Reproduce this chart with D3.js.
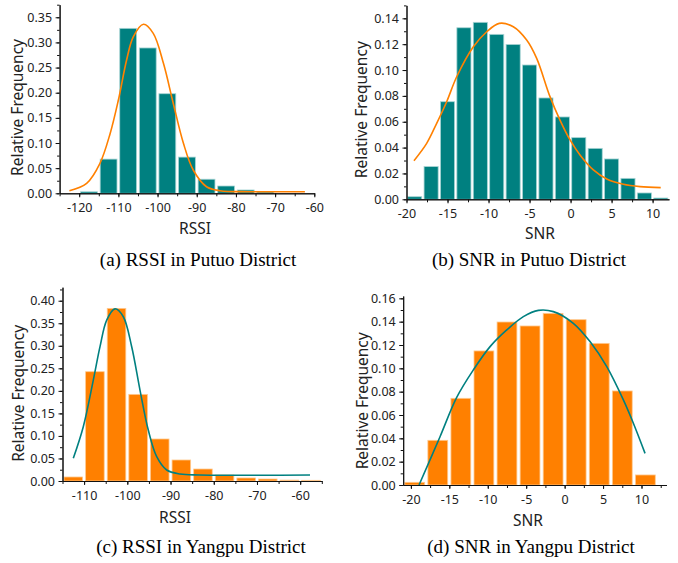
<!DOCTYPE html>
<html>
<head>
<meta charset="utf-8">
<script src="https://cdn.jsdelivr.net/npm/d3@7"></script>
<style>
  body { margin: 0; background: #fff; }
  svg { display: block; }
  .tick text { font-family: "Noto Sans", sans-serif; font-size: 12.5px; fill: #222; }
  .axis path, .axis line { stroke: #111; }
  .title { font-family: "Noto Sans", sans-serif; font-size: 15.5px; fill: #222; }
  .caption { font-family: "Liberation Serif", "Times New Roman", serif; font-size: 19px; fill: #000; }
</style>
</head>
<body>
<svg id="chart" width="678" height="563"></svg>
<script>
// (a) RSSI, Putuo District: bin centres (dBm) and relative frequency
const RSSI_PUTUO_BINS = [-117.5, -112.5, -107.5, -102.5, -97.5, -92.5, -87.5, -82.5, -77.5, -72.5];
const RSSI_PUTUO_FREQ = [0.003, 0.068, 0.328, 0.289, 0.198, 0.072, 0.028, 0.0145, 0.0066, 0.0026];
const RSSI_PUTUO_FIT_X = [-122.5, -118.1, -114.7, -112.1, -110.0, -107.9, -106.2, -103.6, -101.1, -98.5, -96.0, -93.4, -90.9, -87.5, -84.1, -76.4, -62.4];
const RSSI_PUTUO_FIT_Y = [0.0052, 0.0199, 0.0597, 0.119, 0.1855, 0.265, 0.311, 0.336, 0.318, 0.2585, 0.179, 0.0994, 0.0463, 0.0131, 0.0052, 0.0032, 0.0032];

// (b) SNR, Putuo District
const SNR_PUTUO_BINS = [-19, -17, -15, -13, -11, -9, -7, -5, -3, -1, 1, 3, 5, 7, 9, 11];
const SNR_PUTUO_FREQ = [0.002, 0.0253, 0.0755, 0.1327, 0.1369, 0.1276, 0.1198, 0.1039, 0.0784, 0.0637, 0.0477, 0.0394, 0.0312, 0.0162, 0.0049, 0.001];
const SNR_PUTUO_FIT_X = [-19.09, -17.54, -16.32, -15.10, -13.88, -11.85, -10.22, -8.69, -6.98, -5.35, -4.13, -2.51, -1.29, -0.06, 1.15, 2.78, 4.41, 6.43, 8.47, 10.99];
const SNR_PUTUO_FIT_Y = [0.0299, 0.0433, 0.0588, 0.0755, 0.0948, 0.118, 0.1296, 0.1361, 0.1335, 0.1232, 0.109, 0.0794, 0.0613, 0.0459, 0.0343, 0.0227, 0.0157, 0.0116, 0.0098, 0.009];

// (c) RSSI, Yangpu District
const RSSI_YANGPU_BINS = [-112.5, -107.5, -102.5, -97.5, -92.5, -87.5, -82.5, -77.5, -72.5, -67.5, -62.5, -57.5];
const RSSI_YANGPU_FREQ = [0.0089, 0.2425, 0.383, 0.1922, 0.0932, 0.0466, 0.0266, 0.0133, 0.0067, 0.0044, 0.002, 0.0015];
const RSSI_YANGPU_FIT_X = [-112.5, -110.19, -107.87, -106.32, -104.77, -102.85, -100.93, -98.99, -97.07, -95.15, -93.2, -90.89, -87.81, -83.2, -57.73];
const RSSI_YANGPU_FIT_Y = [0.0503, 0.1205, 0.224, 0.298, 0.357, 0.382, 0.3645, 0.298, 0.2018, 0.113, 0.054, 0.0244, 0.0155, 0.0133, 0.0133];

// (d) SNR, Yangpu District
const SNR_YANGPU_BINS = [-19.5, -16.5, -13.5, -10.5, -7.5, -4.5, -1.5, 1.5, 4.5, 7.5, 10.5];
const SNR_YANGPU_FREQ = [0.0023, 0.0383, 0.0743, 0.1149, 0.1397, 0.1363, 0.1471, 0.1417, 0.1214, 0.0806, 0.0086];
const SNR_YANGPU_FIT_X = [-18.94, -16.21, -14.04, -11.88, -9.70, -7.53, -5.37, -3.42, -1.47, 1.13, 3.3, 5.48, 7.64, 8.94, 10.46];
const SNR_YANGPU_FIT_Y = [0, 0.0414, 0.0751, 0.0986, 0.1186, 0.1329, 0.1443, 0.1497, 0.1486, 0.1386, 0.1229, 0.1014, 0.0729, 0.0529, 0.0271];

// tick values
const RSSI_A_TICKS = [-120, -110, -100, -90, -80, -70, -60];
const RSSI_C_TICKS = [-110, -100, -90, -80, -70, -60];
const SNR_TICKS = [-20, -15, -10, -5, 0, 5, 10];
const FREQ_A_TICKS = [0, 0.05, 0.10, 0.15, 0.20, 0.25, 0.30, 0.35];
const FREQ_B_TICKS = [0, 0.02, 0.04, 0.06, 0.08, 0.10, 0.12, 0.14];
const FREQ_C_TICKS = [0, 0.05, 0.10, 0.15, 0.20, 0.25, 0.30, 0.35, 0.40];
const FREQ_D_TICKS = [0, 0.02, 0.04, 0.06, 0.08, 0.10, 0.12, 0.14, 0.16];

const TEAL = '#008080';
const ORANGE = '#ff8000';

const panels = [
    {
        bins: RSSI_PUTUO_BINS, freq: RSSI_PUTUO_FREQ, binWidth: 5,
        fitX: RSSI_PUTUO_FIT_X, fitY: RSSI_PUTUO_FIT_Y,
        bar: TEAL, barEdge: '#a8d4d4', line: ORANGE,
        xDomain: [-125, -60], xRange: [59.6, 314.3], yDomain: [0, 0.375], yRange: [193.3, 4.7],
        xTicks: RSSI_A_TICKS, xMinorStep: 5, yTicks: FREQ_A_TICKS, yMinorStep: 0.025,
        xTitle: 'RSSI', xTitleAt: [195, 234], yTitleAt: [23, 107.5],
        caption: '(a) RSSI in Putuo District', captionAt: [198, 266]
    },
    {
        bins: SNR_PUTUO_BINS, freq: SNR_PUTUO_FREQ, binWidth: 2,
        fitX: SNR_PUTUO_FIT_X, fitY: SNR_PUTUO_FIT_Y,
        bar: TEAL, barEdge: '#a8d4d4', line: ORANGE,
        xDomain: [-20, 12], xRange: [406.5, 669], yDomain: [0, 0.15], yRange: [199.3, 5.4],
        xTicks: SNR_TICKS, xMinorStep: 2.5, yTicks: FREQ_B_TICKS, yMinorStep: 0.01,
        xTitle: 'SNR', xTitleAt: [540, 238.5], yTitleAt: [367, 109.7],
        caption: '(b) SNR in Putuo District', captionAt: [529, 266]
    },
    {
        bins: RSSI_YANGPU_BINS, freq: RSSI_YANGPU_FREQ, binWidth: 5,
        fitX: RSSI_YANGPU_FIT_X, fitY: RSSI_YANGPU_FIT_Y,
        bar: ORANGE, barEdge: '#ffc98f', line: TEAL,
        xDomain: [-115, -55], xRange: [62.5, 321.8], yDomain: [0, 0.43], yRange: [481, 287.2],
        xTicks: RSSI_C_TICKS, xMinorStep: 5, yTicks: FREQ_C_TICKS, yMinorStep: 0.025,
        xTitle: 'RSSI', xTitleAt: [175, 523], yTitleAt: [24, 393.3],
        caption: '(c) RSSI in Yangpu District', captionAt: [201, 553]
    },
    {
        bins: SNR_YANGPU_BINS, freq: SNR_YANGPU_FREQ, binWidth: 3,
        fitX: SNR_YANGPU_FIT_X, fitY: SNR_YANGPU_FIT_Y,
        bar: ORANGE, barEdge: '#ffc98f', line: TEAL,
        xDomain: [-21, 13.25], xRange: [403.2, 666.5], yDomain: [0, 0.162], yRange: [485, 296],
        xTicks: SNR_TICKS, xMinorStep: 2.5, yTicks: FREQ_D_TICKS, yMinorStep: 0.01,
        xTitle: 'SNR', xTitleAt: [528, 525.5], yTitleAt: [368, 400.8],
        caption: '(d) SNR in Yangpu District', captionAt: [531, 553]
    }
];

const svg = d3.select('#chart');

function minorValues(domain, step) {
    const out = [];
    const start = Math.ceil(domain[0] / step - 1e-9);
    for (let k = start; k * step <= domain[1] + 1e-9; k++) out.push(+(k * step).toFixed(4));
    return out;
}

function renderPanel(p) {
    const x = d3.scaleLinear().domain(p.xDomain).range(p.xRange);
    const y = d3.scaleLinear().domain(p.yDomain).range(p.yRange);
    const g = svg.append('g');

    // bars
    const bw = Math.abs(x(p.binWidth) - x(0));
    const gap = bw * 0.14;
    g.append('g')
        .selectAll('rect')
        .data(p.bins.map((c, i) => ({c, f: p.freq[i]})))
        .join('rect')
        .attr('x', d => x(d.c - p.binWidth / 2) + gap / 2)
        .attr('width', bw - gap)
        .attr('y', d => y(d.f))
        .attr('height', d => y(0) - y(d.f))
        .attr('fill', p.bar)
        .attr('stroke', p.barEdge)
        .attr('stroke-width', 0.8);

    // fitted curve
    const line = d3.line()
        .curve(d3.curveCatmullRom.alpha(0.5))
        .x(d => x(d[0]))
        .y(d => y(d[1]));
    g.append('path')
        .attr('d', line(p.fitX.map((v, i) => [v, p.fitY[i]])))
        .attr('fill', 'none')
        .attr('stroke', p.line)
        .attr('stroke-width', 1.6);

    // axes
    g.append('g')
        .attr('class', 'axis')
        .attr('transform', `translate(0,${y(0)})`)
        .call(d3.axisBottom(x).tickValues(minorValues(p.xDomain, p.xMinorStep)).tickSize(3).tickFormat('').tickSizeOuter(0));
    g.append('g')
        .attr('class', 'axis')
        .attr('transform', `translate(0,${y(0)})`)
        .call(d3.axisBottom(x).tickValues(p.xTicks).tickSize(4).tickPadding(6).tickSizeOuter(0).tickFormat(d3.format('d')));
    g.append('g')
        .attr('class', 'axis')
        .attr('transform', `translate(${x(p.xDomain[0])},0)`)
        .call(d3.axisLeft(y).tickValues(minorValues(p.yDomain, p.yMinorStep)).tickSize(2.5).tickFormat('').tickSizeOuter(0));
    g.append('g')
        .attr('class', 'axis')
        .attr('transform', `translate(${x(p.xDomain[0])},0)`)
        .call(d3.axisLeft(y).tickValues(p.yTicks).tickSize(4).tickPadding(3.5).tickSizeOuter(0).tickFormat(d3.format('.2f')));
    g.selectAll('.tick text').text(function () { return this.textContent.replace('−', '-'); });

    // titles
    g.append('text')
        .attr('class', 'title')
        .attr('x', p.xTitleAt[0]).attr('y', p.xTitleAt[1])
        .attr('text-anchor', 'middle')
        .text(p.xTitle);
    g.append('text')
        .attr('class', 'title')
        .attr('transform', `translate(${p.yTitleAt[0]},${p.yTitleAt[1]}) rotate(-90)`)
        .attr('text-anchor', 'middle')
        .text('Relative Frequency');
    svg.append('text')
        .attr('class', 'caption')
        .attr('x', p.captionAt[0]).attr('y', p.captionAt[1])
        .attr('text-anchor', 'middle')
        .text(p.caption);
}

panels.forEach(renderPanel);
</script>
</body>
</html>
